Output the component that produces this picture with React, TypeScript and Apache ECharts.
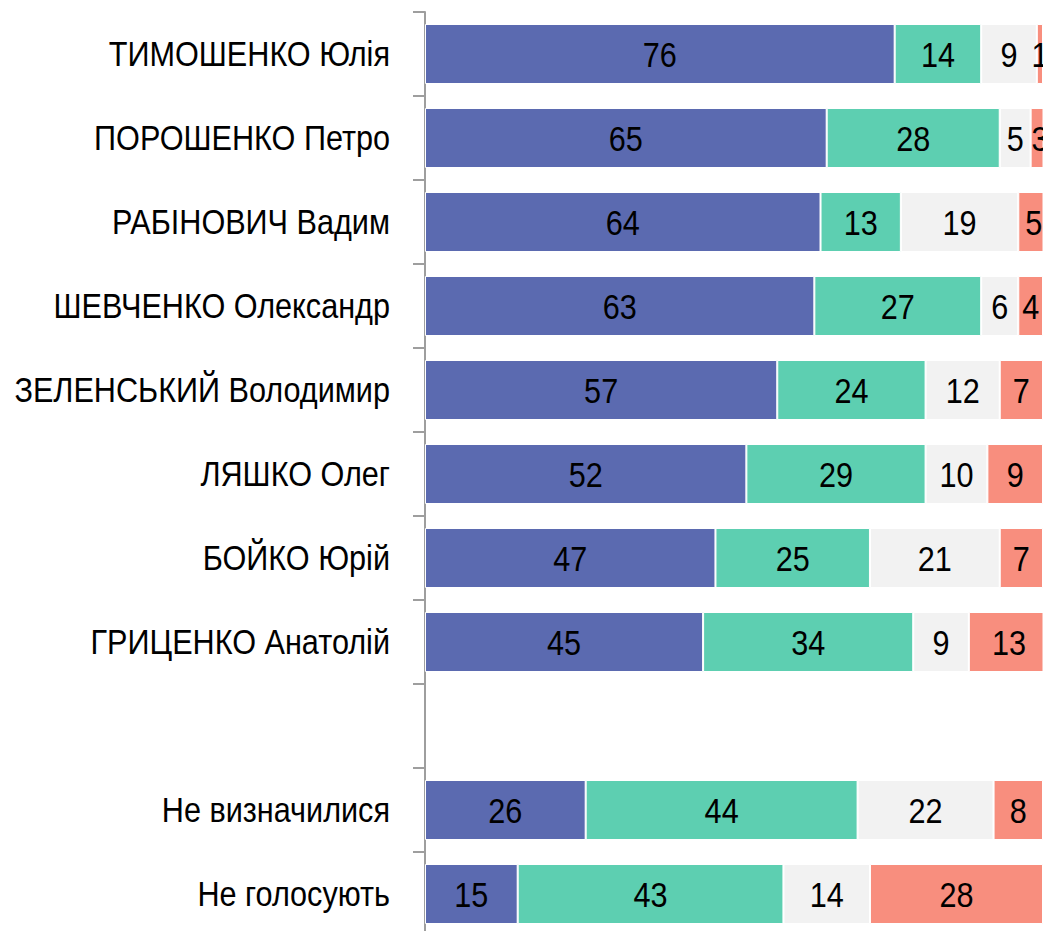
import React, { useEffect, useRef } from "react";
import * as echarts from "echarts";

const categories = [
  "ТИМОШЕНКО Юлія",
  "ПОРОШЕНКО Петро",
  "РАБІНОВИЧ Вадим",
  "ШЕВЧЕНКО Олександр",
  "ЗЕЛЕНСЬКИЙ Володимир",
  "ЛЯШКО Олег",
  "БОЙКО Юрій",
  "ГРИЦЕНКО Анатолій",
  "",
  "Не визначилися",
  "Не голосують",
];

const seriesA = [76, 65, 64, 63, 57, 52, 47, 45, null, 26, 15];
const seriesB = [14, 28, 13, 27, 24, 29, 25, 34, null, 44, 43];
const seriesC = [9, 5, 19, 6, 12, 10, 21, 9, null, 22, 14];
const seriesD = [1, 3, 5, 4, 7, 9, 7, 13, null, 8, 28];

const colors = ["#5B6AB0", "#5DCFB1", "#F2F2F2", "#F88E7E"];
const FONT_FAMILY = "'Liberation Sans', Arial, sans-serif";
const FONT_SIZE = 35;
const SCALE_X = 0.875;

export default function App() {
  const ref = useRef<HTMLDivElement>(null);
  useEffect(() => {
    document.body.style.margin = "0";
    document.body.style.overflow = "hidden";
    const chart = echarts.init(ref.current!, null, { renderer: "svg" });
    const all = [seriesA, seriesB, seriesC, seriesD];

    const valueLabels: [number, number, number][] = [];
    categories.forEach((_, i) => {
      let acc = 0;
      all.forEach((s) => {
        const v = s[i];
        if (v == null) return;
        valueLabels.push([acc + v / 2, i, v]);
        acc += v;
      });
    });
    const catLabels = categories.map((c, i) => [0, i]);

    const mk = (data: (number | null)[], i: number) => ({
      type: "bar",
      stack: "total",
      data,
      barWidth: 60,
      itemStyle: { color: colors[i], borderColor: "#ffffff", borderWidth: 1 },
      label: { show: false },
    });

    const textEl = (x: number, y: number, text: string, align: string) => ({
      type: "text",
      x,
      y,
      scaleX: SCALE_X,
      scaleY: 1,
      silent: true,
      style: {
        text,
        fill: "#000",
        font: `${FONT_SIZE}px ${FONT_FAMILY}`,
        align,
        verticalAlign: "middle",
        textAlign: align,
        textVerticalAlign: "middle",
      },
    });

    chart.setOption({
      animation: false,
      grid: { left: 425, right: 0, top: 12, bottom: -5, outerBoundsMode: "none" },
      xAxis: { type: "value", min: 0, max: 100, show: false },
      yAxis: {
        type: "category",
        inverse: true,
        data: categories,
        axisLine: { show: true, lineStyle: { color: "#9E9E9E", width: 2 } },
        axisTick: { show: true, length: 12, lineStyle: { color: "#9E9E9E", width: 2 } },
        axisLabel: { show: false },
      },
      series: [
        mk(seriesA, 0),
        mk(seriesB, 1),
        mk(seriesC, 2),
        mk(seriesD, 3),
        {
          type: "custom",
          coordinateSystem: "cartesian2d",
          data: valueLabels,
          z: 10,
          clip: false,
          encode: { x: 0, y: 1 },
          renderItem: (params: any, api: any) => {
            const p = api.coord([api.value(0), api.value(1)]);
            return textEl(p[0], p[1] + 1, String(api.value(2)), "center");
          },
        },
        {
          type: "custom",
          coordinateSystem: "cartesian2d",
          data: catLabels,
          z: 10,
          clip: false,
          encode: { x: 0, y: 1 },
          renderItem: (params: any, api: any) => {
            const p = api.coord([0, api.value(1)]);
            return textEl(p[0] - 35, p[1], categories[params.dataIndex], "right");
          },
        },
      ],
    });
    return () => chart.dispose();
  }, []);
  return <div ref={ref} style={{ width: 1043, height: 931 }} />;
}
